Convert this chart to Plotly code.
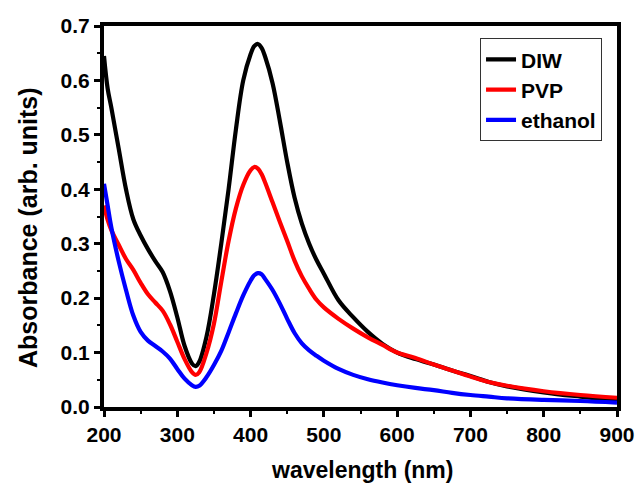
import plotly.graph_objects as go

# wavelength grid (nm)
wavelength = [200, 205, 210, 220, 230, 240, 250, 260, 270, 280, 290, 300, 310, 320, 325,
              330, 340, 350, 360, 370, 380, 390, 400, 405, 410, 415, 420, 430, 440, 450, 460,
              470, 480, 490, 500, 520, 540, 560, 580, 600, 625, 650, 675, 700, 725, 750,
              800, 850, 900]

diw = [0.645, 0.585, 0.55, 0.475, 0.40, 0.345, 0.315, 0.29, 0.268, 0.248, 0.213, 0.165, 0.112,
       0.08, 0.075, 0.083, 0.13, 0.207, 0.30, 0.40, 0.51, 0.60, 0.648, 0.663, 0.667, 0.66,
       0.643, 0.595, 0.525, 0.45, 0.385, 0.337, 0.30, 0.27, 0.245, 0.196, 0.165, 0.138, 0.116,
       0.10, 0.088, 0.078, 0.067, 0.057, 0.046, 0.038, 0.027, 0.019, 0.012]

pvp = [0.37, 0.344, 0.325, 0.298, 0.272, 0.252, 0.228, 0.207, 0.192, 0.177, 0.152, 0.12, 0.088,
       0.064, 0.059, 0.064, 0.10, 0.153, 0.23, 0.305, 0.365, 0.408, 0.435, 0.441, 0.438, 0.428,
       0.412, 0.376, 0.34, 0.305, 0.269, 0.24, 0.217, 0.197, 0.183, 0.162, 0.144, 0.128, 0.114,
       0.10, 0.09, 0.078, 0.067, 0.056, 0.046, 0.039, 0.029, 0.022, 0.017]

ethanol = [0.41, 0.37, 0.33, 0.268, 0.215, 0.168, 0.138, 0.122, 0.112, 0.102, 0.089, 0.07, 0.052,
           0.04, 0.037, 0.039, 0.055, 0.077, 0.103, 0.137, 0.172, 0.205, 0.232, 0.242, 0.246,
           0.244, 0.235, 0.215, 0.19, 0.162, 0.136, 0.117, 0.104, 0.094, 0.085, 0.07, 0.059,
           0.051, 0.045, 0.04, 0.035, 0.031, 0.026, 0.022, 0.019, 0.016, 0.013, 0.011, 0.008]

series = [("DIW", diw, "black"), ("PVP", pvp, "red"), ("ethanol", ethanol, "blue")]

fig = go.Figure()
for name, vals, col in series:
    fig.add_trace(go.Scatter(x=wavelength, y=vals, name=name, mode="lines",
                             line=dict(color=col, width=4.2, shape="spline", smoothing=1)))

fam = "Liberation Sans, Arial, sans-serif"
tickfont = dict(family=fam, size=21, color="black", weight="bold")

axis_common = dict(showline=True, linewidth=4, linecolor="black", mirror=True,
                   ticks="outside", ticklen=6, tickwidth=3, tickcolor="black",
                   showgrid=False, zeroline=False, tickfont=tickfont, automargin=False)

fig.update_xaxes(range=[200, 900], dtick=100,
                 minor=dict(dtick=50, ticks="outside", ticklen=3, tickwidth=2, tickcolor="black"),
                 **axis_common)
fig.update_yaxes(range=[0, 0.7], dtick=0.1, tickformat=".1f",
                 minor=dict(dtick=0.05, ticks="outside", ticklen=3, tickwidth=2, tickcolor="black"),
                 **axis_common)

# axis titles
fig.add_annotation(text="<b>wavelength (nm)</b>", xref="paper", yref="paper",
                   x=0.503, y=-0.165, xanchor="center", yanchor="middle", showarrow=False,
                   font=dict(family=fam, size=23, color="black"))
fig.add_annotation(text="<b>Absorbance (arb. units)</b>", xref="paper", yref="paper",
                   x=-0.148, y=0.47, xanchor="center", yanchor="middle", showarrow=False,
                   textangle=-90, font=dict(family=fam, size=25, color="black"))

fig.update_layout(
    width=639, height=483,
    margin=dict(l=104, r=22, t=26, b=76, autoexpand=False),
    plot_bgcolor="white", paper_bgcolor="white",
    legend=dict(x=0.733, y=0.968, xanchor="left", yanchor="top",
                bordercolor="#333", borderwidth=1, bgcolor="white",
                font=dict(family=fam, size=21, color="black", weight="bold"),
                itemwidth=30),
)

# drop the default page margin so the figure sits flush in the window
fig.write_html("out.html",
               config={"displayModeBar": False, "responsive": False},
               post_script="document.body.style.margin='0';document.body.style.overflow='hidden';")
